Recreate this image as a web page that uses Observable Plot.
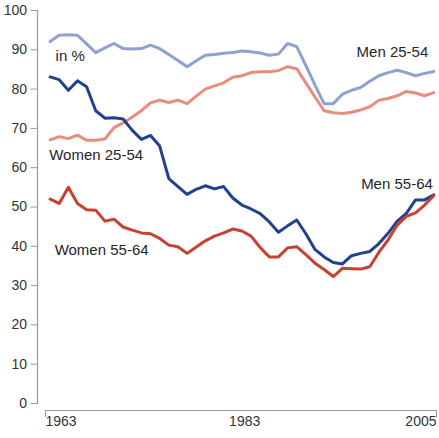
<!DOCTYPE html>
<html>
<head>
<meta charset="utf-8">
<script src="https://cdn.jsdelivr.net/npm/d3@7"></script>
<script src="https://cdn.jsdelivr.net/npm/@observablehq/plot@0.6"></script>
<style>
  html, body { margin: 0; padding: 0; background: #fff; }
</style>
</head>
<body>
<div id="chart"></div>
<script>
const years = [1963,1964,1965,1966,1967,1968,1969,1970,1971,1972,
               1973,1974,1975,1976,1977,1978,1979,1980,1981,1982,
               1983,1984,1985,1986,1987,1988,1989,1990,1991,1992,
               1993,1994,1995,1996,1997,1998,1999,2000,2001,2002,
               2003,2004,2005];

const men2554 = [92.1,93.7,93.8,93.7,91.5,89.3,90.5,91.6,90.3,90.2,
                 90.3,91.2,90.3,88.8,87.3,85.7,87.2,88.6,88.8,89.1,
                 89.3,89.7,89.5,89.2,88.6,88.9,91.6,90.8,86.0,81.0,
                 76.3,76.3,78.7,79.7,80.4,82.0,83.4,84.2,84.8,84.2,
                 83.4,84.0,84.5];

const women2554 = [67.1,67.9,67.4,68.3,67.0,67.0,67.3,70.2,71.4,72.9,
                   74.5,76.5,77.2,76.6,77.2,76.3,78.2,80.0,80.8,81.6,
                   83.0,83.4,84.2,84.4,84.4,84.7,85.7,85.2,81.6,78.0,
                   74.5,74.0,73.8,74.1,74.7,75.5,77.2,77.6,78.3,79.4,
                   79.0,78.3,79.1];

const men5564 = [83.1,82.4,79.7,82.1,80.6,74.5,72.6,72.7,72.4,69.5,
                 67.2,68.2,65.5,57.2,55.2,53.2,54.5,55.4,54.6,55.2,
                 52.3,50.5,49.5,48.3,46.2,43.6,45.2,46.7,43.2,39.2,
                 37.3,35.9,35.5,37.6,38.2,38.7,40.7,43.3,46.4,48.4,
                 51.8,51.8,53.1];

const women5564 = [52.0,50.9,55.0,50.9,49.3,49.2,46.4,46.9,44.9,44.1,
                   43.4,43.2,42.0,40.3,39.9,38.2,39.8,41.4,42.6,43.4,
                   44.4,43.9,42.6,39.7,37.3,37.3,39.6,39.9,37.9,35.7,
                   34.1,32.3,34.4,34.3,34.2,34.8,38.5,41.6,45.4,47.6,
                   48.5,50.5,52.9];

const seriesNames = ["Men 25-54", "Women 25-54", "Men 55-64", "Women 55-64"];
const seriesColors = ["#8ea1d0", "#e88c7e", "#23408f", "#c8412f"];

const yTicks = [0,10,20,30,40,50,60,70,80,90,100];
const xDomain = [1962.5, 2005.3];
const xTickLabels = ["1963", "1983", "2005"];
const xTickPos = [1962.5, 1982.6, 2005.3];

// series label placement (data units)
const labelText = ["in %", "Men 25-54", "Women 25-54", "Women 55-64", "Men 55-64"];
const labelX = [1963.6, 2004.4, 1962.9, 1963.5, 2004.9];
const labelY = [88.5, 89.3, 63.3, 39.1, 55.9];
const labelAnchor = ["start", "end", "start", "start", "end"];

const allSeries = [men2554, women2554, men5564, women5564];
const rows = [];
allSeries.forEach((vals, si) => {
  vals.forEach((v, i) => rows.push({year: years[i], value: v, series: seriesNames[si]}));
});
const labels = labelText.map((t, i) => ({text: t, x: labelX[i], y: labelY[i], anchor: labelAnchor[i]}));
const xLabs = xTickLabels.map((t, i) => ({text: t, x: xTickPos[i], anchor: i === xTickLabels.length - 1 ? "end" : "start"}));

const tickFont = "'Liberation Sans Narrow', 'Arial Narrow', 'Liberation Sans', sans-serif";
const labFont = "'Liberation Sans', Arial, Helvetica, sans-serif";

const chart = Plot.plot({
  width: 439,
  height: 438,
  marginTop: 10,
  marginBottom: 35,
  marginLeft: 45,
  marginRight: 3,
  style: {background: "#fff"},
  x: {domain: xDomain, axis: null},
  y: {domain: [0, 100], axis: null},
  color: {domain: seriesNames, range: seriesColors},
  marks: [
    // y axis
    Plot.frame({anchor: "left", dx: -8, stroke: "#9a9a9a", strokeWidth: 1.2}),
    Plot.axisY(yTicks, {tickSize: 6.5, tickPadding: 4, dx: -8, stroke: "#9a9a9a",
      fill: "#333", fontSize: 14, fontFamily: tickFont, tickFormat: d => String(d)}),
    // x axis
    Plot.frame({anchor: "bottom", dy: 7, stroke: "#9a9a9a", strokeWidth: 1.2}),
    Plot.axisX(xDomain, {tickSize: 7, dy: 7, stroke: "#9a9a9a", tickFormat: () => ""}),
    Plot.text(xLabs.filter(d => d.anchor === "start"), {x: "x", text: "text", frameAnchor: "bottom",
      dy: 22, textAnchor: "start", fill: "#333", fontSize: 14, fontFamily: tickFont}),
    Plot.text(xLabs.filter(d => d.anchor === "end"), {x: "x", text: "text", frameAnchor: "bottom",
      dy: 22, textAnchor: "end", fill: "#333", fontSize: 14, fontFamily: tickFont}),
    // lines
    Plot.line(rows, {x: "year", y: "value", z: "series", stroke: "series",
      strokeWidth: 3, strokeLinejoin: "round", strokeLinecap: "round"}),
    // labels
    Plot.text(labels.filter(d => d.anchor === "start"), {x: "x", y: "y", text: "text",
      textAnchor: "start", fill: "#262626", fontSize: 15, fontFamily: labFont}),
    Plot.text(labels.filter(d => d.anchor === "end"), {x: "x", y: "y", text: "text",
      textAnchor: "end", fill: "#262626", fontSize: 15, fontFamily: labFont})
  ]
});
document.getElementById("chart").appendChild(chart);
</script>
</body>
</html>
